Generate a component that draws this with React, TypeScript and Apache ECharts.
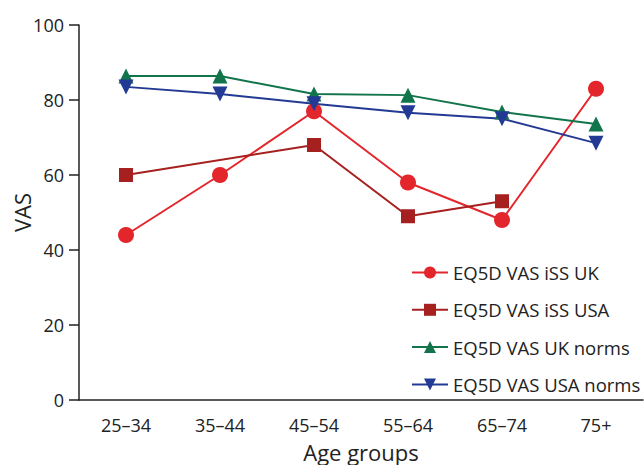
import React, { useEffect, useRef } from "react";
import * as echarts from "echarts";

const categories = ["25–34", "35–44", "45–54", "55–64", "65–74", "75+"];
const ukIss = [44, 60, 77, 58, 48, 83];
const usaIss = [60, null, 68, 49, 53, null];
const ukNorms = [86.4, 86.4, 81.6, 81.3, 76.8, 73.6];
const usaNorms = [83.5, 81.6, 79, 76.6, 75, 68.5];
const yTicks = [0, 20, 40, 60, 80, 100];

const FONT = "Open Sans";

export default function App() {
  const ref = useRef<HTMLDivElement>(null);
  useEffect(() => {
    if (!ref.current) return;
    const chart = echarts.init(ref.current, null, { renderer: "svg" });
    const mk = (name: string, data: any[], color: string, symbol: string, size: number, rotate = 0) => ({
      name,
      type: "line",
      data,
      connectNulls: true,
      symbol,
      symbolSize: size,
      symbolRotate: rotate,
      showAllSymbol: true,
      lineStyle: { color, width: 2 },
      itemStyle: { color },
      emphasis: { disabled: true },
    });
    chart.setOption({
      animation: false,
      textStyle: { fontFamily: FONT },
      grid: { left: 79, right: 1, top: 25, bottom: 65, containLabel: false, outerBoundsMode: "none" },
      legend: {
        orient: "vertical",
        left: 406,
        top: 258,
        itemWidth: 36,
        itemHeight: 15,
        itemGap: 18.3,
        textStyle: { fontFamily: FONT, fontSize: 18.5, lineHeight: 19, color: "#222" },
        data: ["EQ5D VAS iSS UK", "EQ5D VAS iSS USA", "EQ5D VAS UK norms", "EQ5D VAS USA norms"],
      },
      xAxis: {
        type: "category",
        data: categories,
        boundaryGap: true,
        name: "Age groups",
        nameLocation: "middle",
        nameGap: 41,
        nameMoveOverlap: false,
        nameTextStyle: { fontFamily: FONT, fontSize: 22, color: "#222" },
        axisLine: { lineStyle: { color: "#222", width: 1.5 } },
        axisTick: { alignWithLabel: true, length: 9, lineStyle: { color: "#222", width: 1.5 } },
        axisLabel: { fontFamily: FONT, fontSize: 18, color: "#222", margin: 16 },
        splitLine: { show: false },
      },
      yAxis: {
        type: "value",
        min: 0,
        max: 100,
        interval: 20,
        name: "VAS",
        nameLocation: "middle",
        nameGap: 46.5,
        nameMoveOverlap: false,
        nameTextStyle: { fontFamily: FONT, fontSize: 22, color: "#222" },
        axisLine: { show: true, lineStyle: { color: "#222", width: 1.5 } },
        axisTick: { show: true, length: 10, lineStyle: { color: "#222", width: 1.5 } },
        axisLabel: {
          fontFamily: FONT,
          fontSize: 18,
          color: "#222",
          margin: 15,
          formatter: (v: number) => (yTicks.includes(v) ? String(v) : ""),
        },
        splitLine: { show: false },
      },
      series: [
        mk("EQ5D VAS iSS UK", ukIss, "#e3262b", "circle", 16),
        mk("EQ5D VAS iSS USA", usaIss, "#a5201f", "rect", 14),
        mk("EQ5D VAS UK norms", ukNorms, "#12744a", "triangle", 15),
        mk("EQ5D VAS USA norms", usaNorms, "#233a94", "triangle", 15, 180),
      ],
    });
    return () => chart.dispose();
  }, []);
  return <div ref={ref} style={{ width: 644, height: 465, position: "absolute", left: 0, top: 0, background: "#fff" }} />;
}
